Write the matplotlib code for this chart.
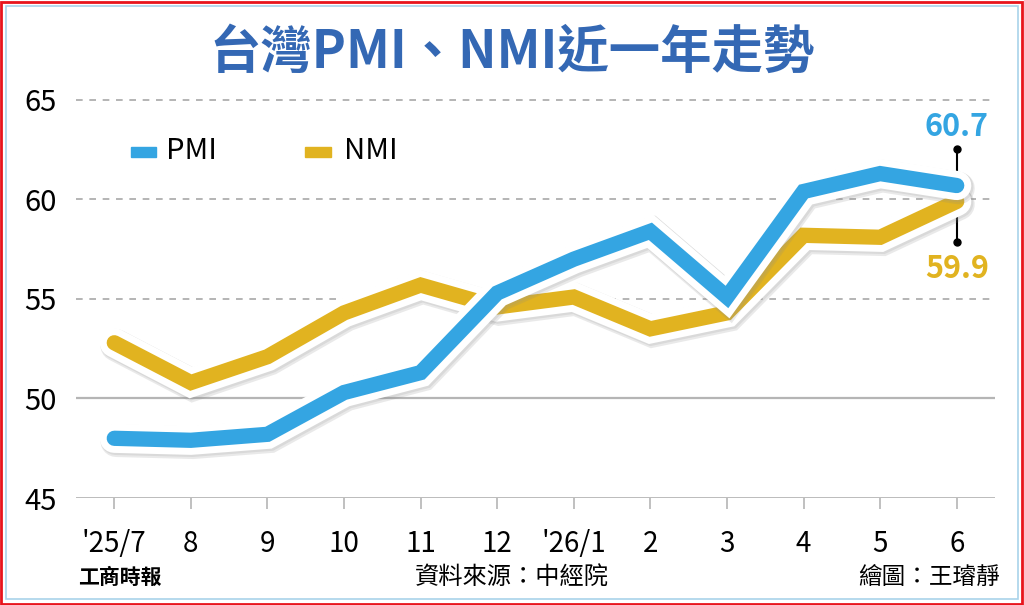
import matplotlib
matplotlib.use("Agg")
import matplotlib.pyplot as plt
import matplotlib.patheffects as pe
from matplotlib.patches import Rectangle

plt.rcParams["font.family"] = ["Noto Sans CJK TC", "DejaVu Sans"]

months = ["'25/7", "8", "9", "10", "11", "12", "'26/1", "2", "3", "4", "5", "6"]
pmi = [48.0, 47.9, 48.2, 50.3, 51.3, 55.3, 57.0, 58.4, 55.1, 60.4, 61.3, 60.7]
nmi = [52.8, 50.8, 52.1, 54.3, 55.7, 54.6, 55.1, 53.5, 54.3, 58.2, 58.1, 59.9]
yticks = [45, 50, 55, 60, 65]

BLUE = "#34a5e2"
GOLD = "#e1b320"
TITLE_BLUE = "#3468b4"

W, H = 1024, 605
fig = plt.figure(figsize=(W / 100, H / 100), dpi=100)
fig.patch.set_facecolor("white")

# frame: red outer, light blue inner
fig.patches.append(Rectangle((1 / W, 1 / H), 1 - 3 / W, 1 - 3 / H, transform=fig.transFigure,
                             fill=False, ec="#e8141c", lw=2))
fig.patches.append(Rectangle((6 / W, 6 / H), 1 - 12 / W, 1 - 12 / H, transform=fig.transFigure,
                             fill=False, ec="#a9d3ea", lw=1.2))

left, right = 76 / W, 995 / W
bottom, top = 1 - 498 / H, 1 - 90 / H
ax = fig.add_axes([left, bottom, right - left, top - bottom])
ax.set_facecolor("none")
x = list(range(len(months)))
ax.set_xlim(-0.5, 11.5)
ax.set_ylim(45, 65.5)
for s in ax.spines.values():
    s.set_visible(False)

for yv in yticks:
    if yv in (45, 50):
        ax.axhline(yv, color="#b5b5b5", lw=2 if yv == 45 else 1.6, zorder=1)
    else:
        ax.axhline(yv, color="#a8a8a8", lw=1.2, ls=(0, (4, 4)), zorder=1)

ax.set_yticks(yticks)
ax.set_yticklabels([str(v) for v in yticks], fontsize=21)
ax.set_xticks(x)
ax.set_xticklabels(months, fontsize=20)
ax.tick_params(axis="y", length=0, pad=14)
ax.tick_params(axis="x", length=8, width=1.2, color="#b5b5b5", pad=14)

# white outline with a soft drop shadow
halo = [pe.Stroke(offset=(1.5, -2), linewidth=23, foreground="#888888", alpha=0.18),
        pe.Stroke(offset=(1, -1), linewidth=22, foreground="#999999", alpha=0.2),
        pe.Stroke(linewidth=21, foreground="white"), pe.Normal()]
ax.plot(x, nmi, color=GOLD, lw=11, solid_capstyle="round", solid_joinstyle="miter",
        path_effects=halo, zorder=3)
ax.plot(x, pmi, color=BLUE, lw=11, solid_capstyle="round", solid_joinstyle="miter",
        path_effects=halo, zorder=4)

# end annotations
ax.plot([11, 11], [62.55, 57.85], color="black", lw=1.5, zorder=2)
ax.plot([11, 11], [62.55, 57.85], "o", color="black", ms=5, zorder=2)
ax.text(11, 63.65, f"{pmi[-1]:.1f}", color=BLUE, fontsize=22, fontweight="bold",
        ha="center", va="center")
ax.text(11, 56.5, f"{nmi[-1]:.1f}", color=GOLD, fontsize=22, fontweight="bold",
        ha="center", va="center")

# legend
fig.patches.append(Rectangle((131 / W, 1 - 157 / H), 25 / W, 10 / H, transform=fig.transFigure,
                             color=BLUE))
fig.text(166 / W, 1 - 151 / H, "PMI", fontsize=21, va="center", ha="left")
fig.patches.append(Rectangle((305 / W, 1 - 157 / H), 26 / W, 10 / H, transform=fig.transFigure,
                             color=GOLD))
fig.text(344 / W, 1 - 151 / H, "NMI", fontsize=21, va="center", ha="left")

fig.text(0.5, 1 - 52 / H, "台灣PMI、NMI近一年走勢", fontsize=37, fontweight="bold",
         color=TITLE_BLUE, ha="center", va="center")

fig.text(78 / W, 1 - 577 / H, "工商時報", fontsize=15, fontweight="heavy", ha="left", va="center")
fig.text(512 / W, 1 - 577 / H, "資料來源：中經院", fontsize=17.5, ha="center", va="center")
fig.text(1000 / W, 1 - 577 / H, "繪圖：王璿靜", fontsize=17, ha="right", va="center")

fig.savefig("out.png", dpi=100)
